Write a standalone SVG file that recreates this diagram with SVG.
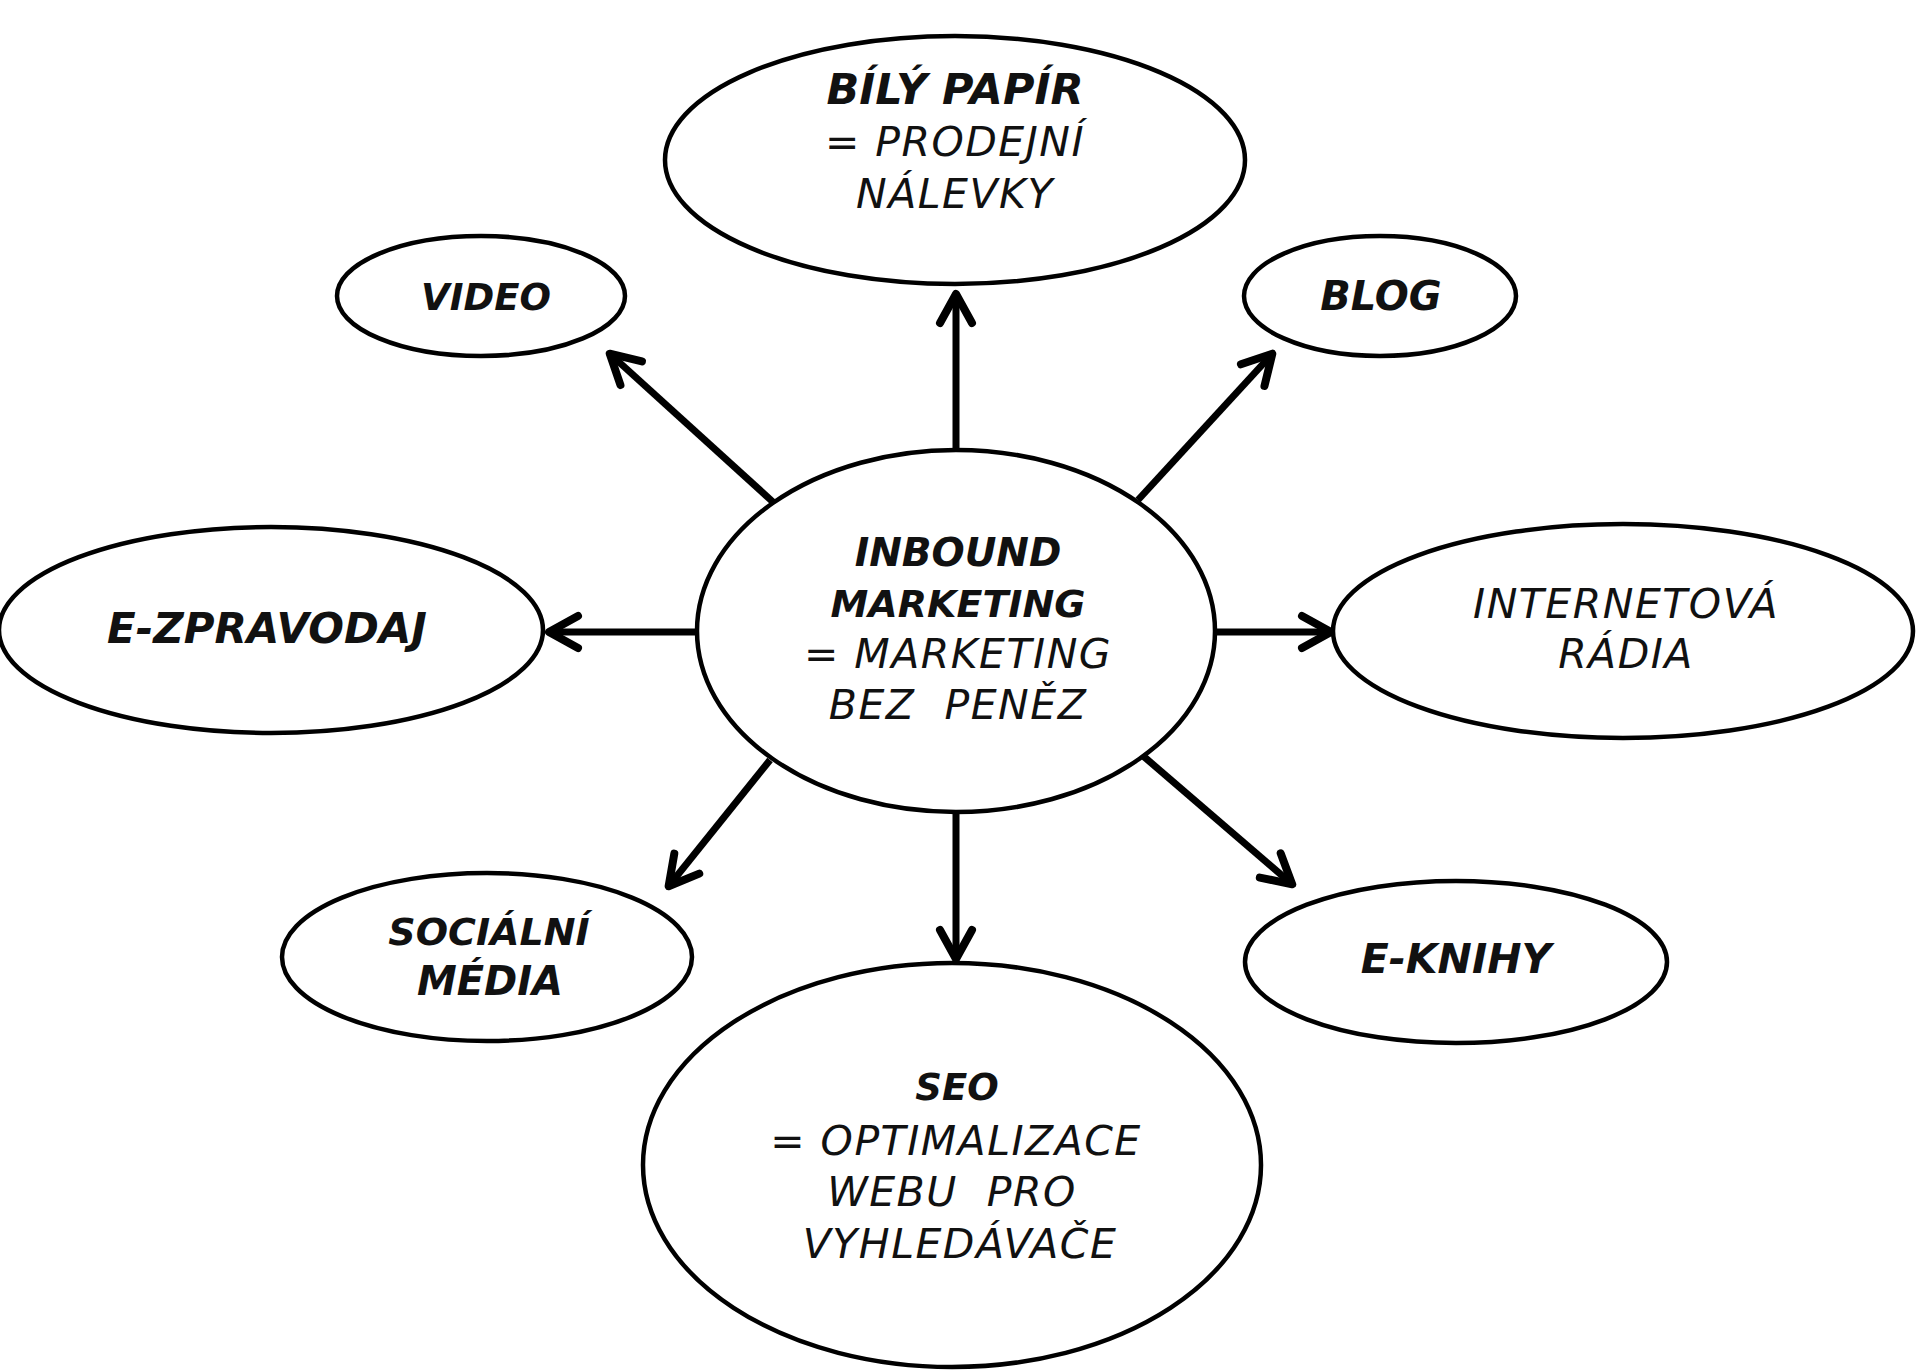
<svg xmlns="http://www.w3.org/2000/svg" width="1920" height="1370" viewBox="0 0 1920 1370">
<style>
.node ellipse{fill:#fff;stroke:#000;stroke-width:4.5}
text{font-family:"DejaVu Sans","Liberation Sans",sans-serif;font-style:italic;text-anchor:middle;fill:#111}
.b{font-weight:bold}
.r{font-size:41px;letter-spacing:1.5px}
.conn line{stroke:#000;stroke-width:7;marker-end:url(#ah)}
</style>
<defs>
<marker id="ah" markerUnits="userSpaceOnUse" markerWidth="50" markerHeight="50" viewBox="-40 -25 50 50" refX="0" refY="0" orient="auto">
<path d="M-30,-16 L-1,0 L-30,16" fill="none" stroke="#000" stroke-width="8" stroke-linecap="round" stroke-linejoin="round"/>
</marker>
</defs>
<rect width="1920" height="1370" fill="#fff"/>
<g class="conn" id="connectors">
<line x1="956" y1="450" x2="956" y2="293"/>
<line x1="773" y1="502" x2="609" y2="353"/>
<line x1="1138" y1="500" x2="1273" y2="353"/>
<line x1="697" y1="632" x2="548" y2="632"/>
<line x1="1215" y1="632" x2="1332" y2="632"/>
<line x1="770" y1="760" x2="668" y2="887"/>
<line x1="956" y1="812" x2="956" y2="960"/>
<line x1="1142" y1="755" x2="1293" y2="885"/>
</g>
<g class="node" id="center">
<ellipse cx="956" cy="631" rx="259" ry="181"/>
<text class="b" font-size="39" x="958" y="566">INBOUND</text>
<text class="b" font-size="38" x="958" y="617">MARKETING</text>
<text class="r" x="958" y="668">= MARKETING</text>
<text class="r" x="958" y="719" xml:space="preserve">BEZ  PENĚZ</text>
</g>
<g class="node" id="bily-papir">
<ellipse cx="955" cy="160" rx="290" ry="124"/>
<text class="b" font-size="43" x="955" y="104">BÍLÝ PAPÍR</text>
<text class="r" x="955" y="156">= PRODEJNÍ</text>
<text class="r" x="955" y="208">NÁLEVKY</text>
</g>
<g class="node" id="video">
<ellipse cx="481" cy="296" rx="144" ry="60"/>
<text class="b" font-size="37" x="486" y="310">VIDEO</text>
</g>
<g class="node" id="blog">
<ellipse cx="1380" cy="296" rx="136" ry="60"/>
<text class="b" font-size="40" x="1381" y="310">BLOG</text>
</g>
<g class="node" id="e-zpravodaj">
<ellipse cx="271" cy="630" rx="272" ry="103"/>
<text class="b" font-size="42" x="267" y="643">E-ZPRAVODAJ</text>
</g>
<g class="node" id="internetova-radia">
<ellipse cx="1623" cy="631" rx="290" ry="107"/>
<text class="r" font-size="43" x="1626" y="618">INTERNETOVÁ</text>
<text class="r" font-size="43" x="1626" y="668">RÁDIA</text>
</g>
<g class="node" id="socialni-media">
<ellipse cx="487" cy="957" rx="205" ry="84"/>
<text class="b" font-size="38" x="489" y="945">SOCIÁLNÍ</text>
<text class="b" font-size="40" x="490" y="995">MÉDIA</text>
</g>
<g class="node" id="e-knihy">
<ellipse cx="1456" cy="962" rx="211" ry="81"/>
<text class="b" font-size="41" x="1456" y="973">E-KNIHY</text>
</g>
<g class="node" id="seo">
<ellipse cx="952" cy="1165" rx="309" ry="202"/>
<text class="b" font-size="37" x="957" y="1100">SEO</text>
<text class="r" x="956" y="1155">= OPTIMALIZACE</text>
<text class="r" x="952" y="1206" xml:space="preserve">WEBU  PRO</text>
<text class="r" x="960" y="1258">VYHLEDÁVAČE</text>
</g>
</svg>
